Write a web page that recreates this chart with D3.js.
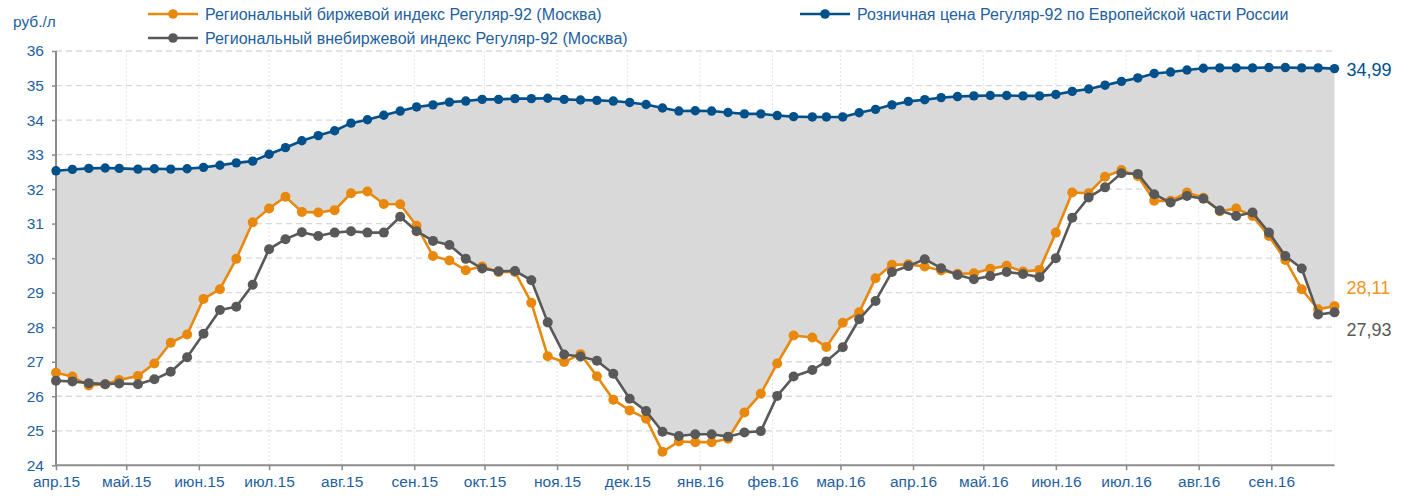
<!DOCTYPE html>
<html>
<head>
<meta charset="utf-8">
<script src="https://cdn.jsdelivr.net/npm/d3@7"></script>
<style>
  html, body { margin: 0; padding: 0; background: #fff; }
  svg { display: block; font-family: "Liberation Sans", Arial, sans-serif; }
</style>
</head>
<body>
<svg id="chart" width="1409" height="496"></svg>
<script>
// Weekly observation dates
const dates = [
  "2015-04-01","2015-04-08","2015-04-15","2015-04-22","2015-04-28",
  "2015-05-06","2015-05-13","2015-05-20","2015-05-27",
  "2015-06-03","2015-06-10","2015-06-17","2015-06-24",
  "2015-07-01","2015-07-08","2015-07-15","2015-07-22","2015-07-29",
  "2015-08-05","2015-08-12","2015-08-19","2015-08-26",
  "2015-09-02","2015-09-09","2015-09-16","2015-09-23","2015-09-30",
  "2015-10-07","2015-10-14","2015-10-21","2015-10-28",
  "2015-11-04","2015-11-11","2015-11-18","2015-11-25",
  "2015-12-02","2015-12-09","2015-12-16","2015-12-23","2015-12-30",
  "2016-01-06","2016-01-13","2016-01-20","2016-01-27",
  "2016-02-03","2016-02-10","2016-02-18","2016-02-24",
  "2016-03-02","2016-03-09","2016-03-16","2016-03-23","2016-03-30",
  "2016-04-06","2016-04-13","2016-04-20","2016-04-27",
  "2016-05-04","2016-05-11","2016-05-18","2016-05-25",
  "2016-06-01","2016-06-08","2016-06-15","2016-06-22","2016-06-29",
  "2016-07-06","2016-07-13","2016-07-20","2016-07-27",
  "2016-08-03","2016-08-10","2016-08-17","2016-08-24","2016-08-31",
  "2016-09-07","2016-09-14","2016-09-21","2016-09-28"
];

// Retail price, European part of Russia (руб./л)
const retail = [
  32.03, 32.07, 32.10, 32.11, 32.10,
  32.08, 32.09, 32.08, 32.09,
  32.13, 32.19, 32.26, 32.31,
  32.51, 32.70, 32.90, 33.05, 33.19,
  33.41, 33.51, 33.64, 33.76,
  33.88, 33.94, 34.02, 34.05, 34.10,
  34.10, 34.12, 34.12, 34.13,
  34.10, 34.08, 34.07, 34.05,
  34.01, 33.95, 33.85, 33.76, 33.77,
  33.76, 33.72, 33.68, 33.68,
  33.63, 33.60, 33.59, 33.59,
  33.59, 33.71, 33.81, 33.94, 34.04,
  34.09, 34.15, 34.18, 34.20,
  34.21, 34.21, 34.20, 34.20,
  34.24, 34.33, 34.40, 34.51, 34.62,
  34.72, 34.85, 34.89, 34.95,
  35.00, 35.01, 35.01, 35.01, 35.02,
  35.02, 35.01, 35.01, 34.99
];

// Regional exchange index (Moscow)
const exchange = [
  26.18, 26.07, 25.81, 25.85, 25.97,
  26.09, 26.45, 27.05, 27.29,
  28.32, 28.60, 29.48, 30.54,
  30.94, 31.28, 30.84, 30.82, 30.89,
  31.38, 31.43, 31.07, 31.06,
  30.44, 29.56, 29.43, 29.15, 29.26,
  29.10, 29.10, 28.21, 26.66,
  26.49, 26.72, 26.08, 25.40,
  25.09, 24.85, 23.89, 24.19, 24.17,
  24.17, 24.27, 25.03, 25.57,
  26.45, 27.26, 27.20, 26.93,
  27.63, 27.93, 28.92, 29.31, 29.32,
  29.26, 29.14, 29.05, 29.06,
  29.19, 29.28, 29.11, 29.16,
  30.24, 31.40, 31.38, 31.86, 32.05,
  31.88, 31.16, 31.16, 31.40,
  31.25, 30.86, 30.94, 30.72, 30.14,
  29.45, 28.60, 28.02, 28.11
];

// Regional over-the-counter index (Moscow)
const otc = [
  25.95, 25.93, 25.88, 25.85, 25.87,
  25.85, 25.99, 26.21, 26.63,
  27.31, 28.00, 28.09, 28.73,
  29.76, 30.05, 30.25, 30.14, 30.24,
  30.28, 30.24, 30.24, 30.70,
  30.28, 30.00, 29.88, 29.48, 29.20,
  29.12, 29.13, 28.86, 27.64,
  26.71, 26.65, 26.53, 26.15,
  25.43, 25.07, 24.47, 24.35, 24.40,
  24.40, 24.33, 24.45, 24.49,
  25.51, 26.07, 26.26, 26.51,
  26.92, 27.73, 28.26, 29.10, 29.27,
  29.47, 29.21, 29.01, 28.89,
  28.98, 29.10, 29.04, 28.95,
  29.50, 30.67, 31.26, 31.55, 31.96,
  31.94, 31.35, 31.11, 31.30,
  31.22, 30.88, 30.72, 30.82, 30.24,
  29.56, 29.20, 27.87, 27.93
];

const monthLabels = [
  "апр.15","май.15","июн.15","июл.15","авг.15","сен.15","окт.15","ноя.15","дек.15",
  "янв.16","фев.16","мар.16","апр.16","май.16","июн.16","июл.16","авг.16","сен.16"
];
const yTickLabels = ["24","25","26","27","28","29","30","31","32","33","34","35","36"];

const legendNames = {
  exchange: "Региональный биржевой индекс Регуляр-92 (Москва)",
  otc: "Региональный внебиржевой индекс Регуляр-92 (Москва)",
  retail: "Розничная цена Регуляр-92 по Европейской части России"
};

const colors = {
  retail: "#00508c",
  exchange: "#e8890e",
  otc: "#595959",
  fill: "#d9d9d9",
  text: "#1f5f9e",
  exchangeLabel: "#f39519",
  axis: "#8c8c8c",
  grid: "#d9d9d9"
};

const parse = d3.timeParse("%Y-%m-%d");
const t = dates.map(parse);
const rows = t.map((d, i) => ({ date: d, retail: retail[i], exchange: exchange[i], otc: otc[i] }));

const plot = { left: 56, right: 1334.5, top: 51, bottom: 465.3 };
const x = d3.scaleTime().domain([t[0], t[t.length - 1]]).range([plot.left, plot.right]);
const y = d3.scaleLinear().domain([23.5, 35.5]).range([plot.bottom, plot.top]);
const yTickValues = d3.range(yTickLabels.length).map(i => y.domain()[0] + i);
const monthTicks = d3.timeMonth.range(d3.timeMonth.ceil(t[0]), t[t.length - 1]);

const svg = d3.select("#chart");

// Gridlines
const grid = svg.append("g");
grid.selectAll("line.h").data(yTickValues.slice(1)).join("line")
  .attr("x1", plot.left).attr("x2", plot.right)
  .attr("y1", d => y(d)).attr("y2", d => y(d))
  .attr("stroke", colors.grid).attr("stroke-width", 1.3)
  .attr("stroke-dasharray", "6,4");
grid.selectAll("line.v").data(monthTicks.slice(1)).join("line")
  .attr("x1", d => x(d)).attr("x2", d => x(d))
  .attr("y1", plot.top).attr("y2", plot.bottom)
  .attr("stroke", "#e6e6e6").attr("stroke-width", 1)
  .attr("stroke-dasharray", "2,2");

// Spread between retail price and the higher of the two indices
const defs = svg.append("defs");
const mask = defs.append("mask").attr("id", "spread-mask");
mask.append("rect").attr("x", 0).attr("y", 0).attr("width", 1409).attr("height", 496).attr("fill", "#fff");
["exchange", "otc"].forEach(key => {
  mask.append("path")
    .attr("d", d3.area().x(d => x(d.date)).y0(plot.bottom + 5).y1(d => y(d[key]))(rows))
    .attr("fill", "#000");
});
svg.append("path")
  .attr("d", d3.area().x(d => x(d.date)).y0(plot.bottom).y1(d => y(d.retail))(rows))
  .attr("fill", colors.fill)
  .attr("mask", "url(#spread-mask)");

// Axes
const yAxis = d3.axisLeft(y).tickValues(yTickValues)
  .tickFormat((d, i) => yTickLabels[i]).tickSize(4).tickPadding(8);
const gy = svg.append("g").attr("transform", `translate(${plot.left},0)`).call(yAxis);
const xAxis = d3.axisBottom(x).tickValues(monthTicks)
  .tickFormat((d, i) => monthLabels[i]).tickSize(5).tickPadding(6);
const gx = svg.append("g").attr("transform", `translate(0,${plot.bottom})`).call(xAxis);
[gx, gy].forEach(g => {
  g.select(".domain").attr("stroke", colors.axis).attr("stroke-width", 2);
  g.selectAll(".tick line").attr("stroke", colors.axis).attr("stroke-width", 1.5);
  g.selectAll(".tick text").attr("fill", colors.text).attr("font-size", 15.5)
    .attr("font-family", "Liberation Sans, Arial, sans-serif");
});
gx.select(".domain").attr("d", `M${plot.left},0H${plot.right}`);
gy.select(".domain").attr("d", `M0,${plot.bottom}V${plot.top}`);

svg.append("text").attr("x", 13).attr("y", 27)
  .attr("fill", colors.text).attr("font-size", 15.5).text("руб./л");

// Series
function drawSeries(key, color, r, width) {
  const g = svg.append("g");
  g.append("path")
    .attr("d", d3.line().x(d => x(d.date)).y(d => y(d[key]))(rows))
    .attr("fill", "none").attr("stroke", color).attr("stroke-width", width)
    .attr("stroke-linejoin", "round");
  g.selectAll("circle").data(rows).join("circle")
    .attr("cx", d => x(d.date)).attr("cy", d => y(d[key]))
    .attr("r", r).attr("fill", color);
}
drawSeries("retail", colors.retail, 4.7, 2.6);
drawSeries("exchange", colors.exchange, 5, 2.6);
drawSeries("otc", colors.otc, 5, 2.6);

// End-of-series value labels
const last = rows[rows.length - 1];
const fmt = v => d3.format(".2f")(v).replace(".", ",");
const endLabels = [
  { v: last.retail, color: colors.retail, dy: 7 },
  { v: last.exchange, color: colors.exchangeLabel, dy: -12 },
  { v: last.otc, color: colors.otc, dy: 24 }
];
svg.selectAll("text.end").data(endLabels).join("text")
  .attr("class", "end")
  .attr("x", x(last.date) + 12)
  .attr("y", d => y(d.v) + d.dy)
  .attr("fill", d => d.color).attr("font-size", 18)
  .text(d => fmt(d.v));

// Legend
const legend = [
  { key: "exchange", color: colors.exchange, x: 148, y: 14 },
  { key: "otc", color: colors.otc, x: 148, y: 38 },
  { key: "retail", color: colors.retail, x: 800, y: 14 }
];
const lg = svg.selectAll("g.legend").data(legend).join("g")
  .attr("class", "legend")
  .attr("transform", d => `translate(${d.x},${d.y})`);
lg.append("line").attr("x1", 0).attr("x2", 50).attr("y1", 0).attr("y2", 0)
  .attr("stroke", d => d.color).attr("stroke-width", 2.6);
lg.append("circle").attr("cx", 25).attr("r", 4.8).attr("fill", d => d.color);
lg.append("text").attr("x", 57).attr("y", 5.8)
  .attr("fill", colors.text).attr("font-size", 16)
  .text(d => legendNames[d.key]);
</script>
</body>
</html>
